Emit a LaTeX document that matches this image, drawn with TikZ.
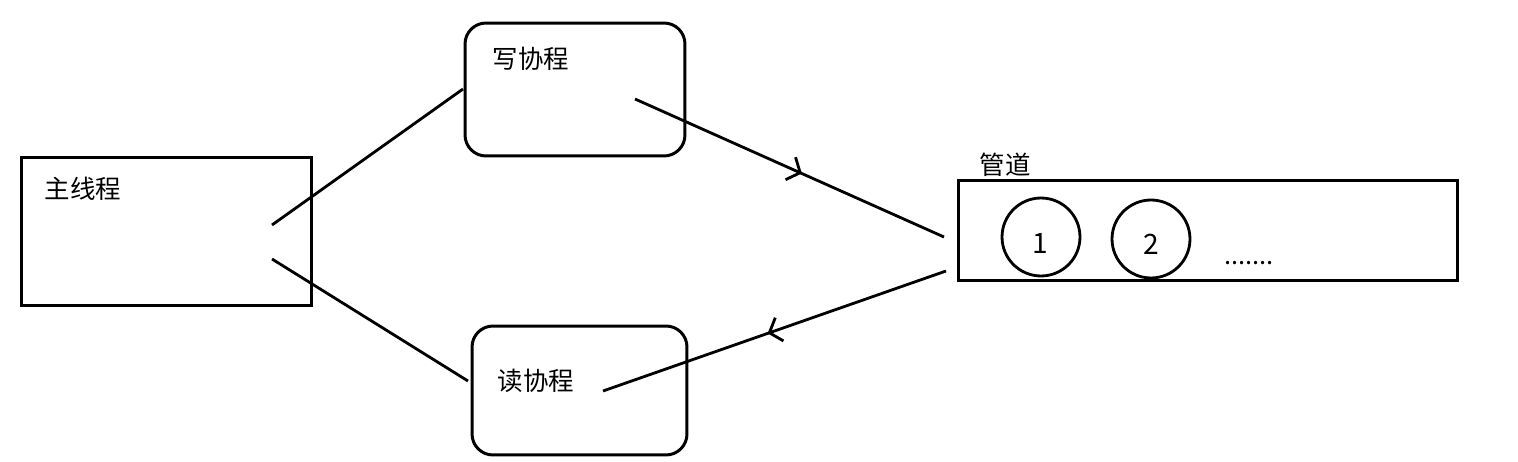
\documentclass[tikz,border=0pt]{standalone}
\usepackage{fontspec}
\setmainfont{Noto Sans CJK SC}
\usetikzlibrary{decorations.markings,arrows.meta}
\begin{document}
\begin{tikzpicture}[x=0.02cm,y=-0.02cm,
  every node/.style={font=\fontsize{14.5}{17}\selectfont},
  box/.style={draw,line width=1.7pt,inner sep=0pt},
  rbox/.style={box,rounded corners=0.42cm},
  item/.style={draw,line width=1.6pt,circle,inner sep=0pt,minimum size=1.56cm},
  digit/.style={font=\fontsize{16}{18}\selectfont},
  link/.style={line width=1.6pt},
  flow/.style={link,decoration={markings,mark=at position #1 with {\arrow[line width=1.6pt]{Straight Barb[length=6pt,width=14pt]}}},postaction={decorate}}
]
\useasboundingbox (0,0) rectangle (1518,462);
% boxes
\node[box,minimum width=5.82cm,minimum height=2.98cm] (main) at (166.5,231.5) {};
\node[rbox,minimum width=4.4cm,minimum height=2.66cm] (write) at (575,89.5) {};
\node[rbox,minimum width=4.3cm,minimum height=2.58cm] (read) at (579.5,390.5) {};
\node[box,minimum width=10cm,minimum height=2.02cm] (pipe) at (1208,230.5) {};
% labels
\node (tmain) at (83,189) {主线程};
\node (twrite) at (531,59) {写协程};
\node (tread) at (536,381) {读协程};
\node (tpipe) at (1005,165) {管道};
% items
\node[item] (c1) at (1041,237) {};
\node[digit] (n1) at (1040,243) {1};
\node[item] (c2) at (1151,239) {};
\node[digit] (n2) at (1151,244) {2};
\node (dots) at (1249,263) {.......};
% connector ends
\coordinate (m1) at (272,225);
\coordinate (w1) at (463,89);
\coordinate (m2) at (272,259);
\coordinate (r1) at (468,381);
\coordinate (w2) at (635,99);
\coordinate (p1) at (944,237);
\coordinate (p2) at (946,271);
\coordinate (r2) at (603,391);
\draw[link] (m1) -- (w1);
\draw[link] (m2) -- (r1);
\draw[flow=0.54] (w2) -- (p1);
\draw[flow=0.52] (p2) -- (r2);
\end{tikzpicture}
\end{document}
